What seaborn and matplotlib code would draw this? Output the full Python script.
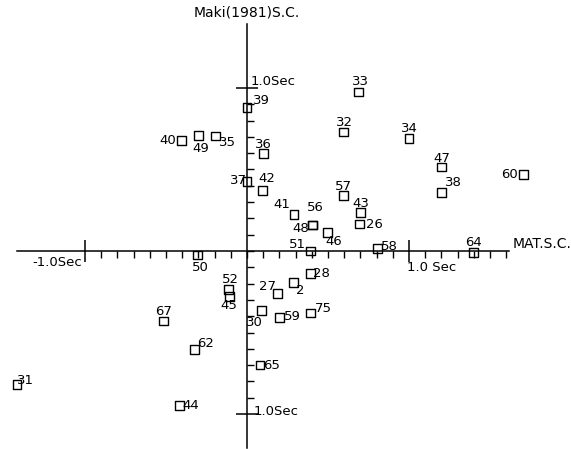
import numpy as np
import pandas as pd
import matplotlib
matplotlib.use("Agg")
import matplotlib.pyplot as plt
import seaborn as sns

# --- data (seconds) ---
ids = ["33", "39", "40", "49", "35", "36", "37", "42", "41", "32", "34", "47",
       "60", "38", "57", "43", "26", "56", "48", "46", "51", "58", "64", "50",
       "28", "2", "27", "52", "45", "30", "59", "75", "67", "62", "65", "31", "44"]
mat_sc = [0.69, 0.00, -0.405, -0.30, -0.195, 0.10, 0.00, 0.095, 0.29, 0.595, 1.00, 1.20,
          1.705, 1.20, 0.595, 0.70, 0.695, 0.405, 0.405, 0.495, 0.39, 0.805, 1.40, -0.305,
          0.39, 0.285, 0.19, -0.115, -0.11, 0.09, 0.20, 0.39, -0.515, -0.325, 0.08, -1.42, -0.415]
maki_sc = [0.975, 0.88, 0.68, 0.71, 0.705, 0.60, 0.425, 0.37, 0.225, 0.73, 0.69, 0.515,
           0.47, 0.36, 0.34, 0.236, 0.165, 0.16, 0.16, 0.115, 0.00, 0.015, -0.01, -0.025,
           -0.14, -0.195, -0.26, -0.235, -0.28, -0.365, -0.41, -0.38, -0.43, -0.605, -0.70, -0.82, -0.95]

# label offsets in pixels (dx right, dy down) – layout only
label_off = {
    "33": (2, -11), "39": (14, -7), "40": (-14, 0), "49": (2, 13), "35": (12, 6),
    "36": (0, -9), "37": (-9, -1), "42": (4, -12), "41": (-12, -10), "32": (1, -10),
    "34": (0, -10), "47": (0, -9), "60": (-14, 0), "38": (12, -10), "57": (0, -9),
    "43": (0, -9), "26": (15, 0), "56": (3, -17), "48": (-12, 4), "46": (7, 9),
    "51": (-13, -6), "58": (12, -2), "64": (0, -10), "50": (3, 12), "28": (11, 0),
    "2": (7, 8), "27": (-10, -7), "52": (2, -10), "45": (0, 9), "30": (-7, 12),
    "59": (13, -1), "75": (13, -4), "67": (0, -10), "62": (11, -6), "65": (12, 0),
    "31": (9, -4), "44": (11, 0),
}

df = pd.DataFrame({"id": ids, "x": mat_sc, "y": maki_sc})

sns.set_theme(style="white")
plt.rcParams["font.family"] = ["DejaVu Sans"]
plt.rcParams["text.color"] = "black"

fig = plt.figure(figsize=(5.71, 4.49), dpi=100)
ax = fig.add_axes([0, 0, 1, 1])
sx, sy = 162.0, 163.0
ox, oy = 247.0, 251.0
ax.set_xlim(-ox / sx, (571 - ox) / sx)
ax.set_ylim(-(449 - oy) / sy, oy / sy)
ax.set_facecolor("white")

sns.scatterplot(data=df, x="x", y="y", marker="s", s=40, facecolor="none",
                edgecolor="black", linewidth=1.0, ax=ax, zorder=3)

for i, xx, yy in zip(ids, mat_sc, maki_sc):
    dx, dy = label_off[i]
    ax.annotate(i, (xx, yy), xytext=(dx, -dy), textcoords="offset pixels",
                ha="center", va="center", fontsize=9.5, color="black")

# axes as crossing spines
for s in ["top", "right"]:
    ax.spines[s].set_visible(False)
ax.spines["left"].set_position(("data", 0))
ax.spines["bottom"].set_position(("data", 0))
ax.spines["left"].set_bounds(-1.21, 1.39)
ax.spines["bottom"].set_bounds(-1.42, 1.62)
for s in ["left", "bottom"]:
    ax.spines[s].set_color("black")
    ax.spines[s].set_linewidth(1.1)

ax.set_xticks([-1.0, 1.0])
ax.set_yticks([-1.0, 1.0])
ax.set_xticks(np.round(np.arange(-1.0, 1.61, 0.1), 2), minor=True)
ax.set_yticks(np.round(np.arange(-1.0, 1.01, 0.1), 2), minor=True)
ax.tick_params(axis="x", which="both", bottom=True, top=False)
ax.tick_params(axis="y", which="both", left=True, right=False)
ax.tick_params(axis="x", which="major", direction="inout", length=16, width=1.1,
               color="black", labelbottom=False)
ax.tick_params(axis="x", which="minor", direction="out", length=5, width=1.0,
               color="black")
ax.tick_params(axis="y", which="major", direction="inout", length=16, width=1.1,
               color="black", labelleft=False)
ax.tick_params(axis="y", which="minor", direction="in", length=5, width=1.0,
               color="black")
ax.set_xlabel("")
ax.set_ylabel("")

# axis texts
ax.text(-1.02, -0.03, "-1.0Sec", ha="right", va="top", fontsize=9.5)
ax.text(0.99, -0.06, "1.0 Sec", ha="left", va="top", fontsize=9.5)
ax.text(0.02, 1.0, "1.0Sec", ha="left", va="bottom", fontsize=9.5)
ax.text(0.04, -0.985, "1.0Sec", ha="left", va="center", fontsize=9.5)
ax.text(1.64, 0.0, "MAT.S.C.", ha="left", va="bottom", fontsize=10)
ax.text(0.0, 1.42, "Maki(1981)S.C.", ha="center", va="bottom", fontsize=10)

fig.savefig("out.png", dpi=100)
